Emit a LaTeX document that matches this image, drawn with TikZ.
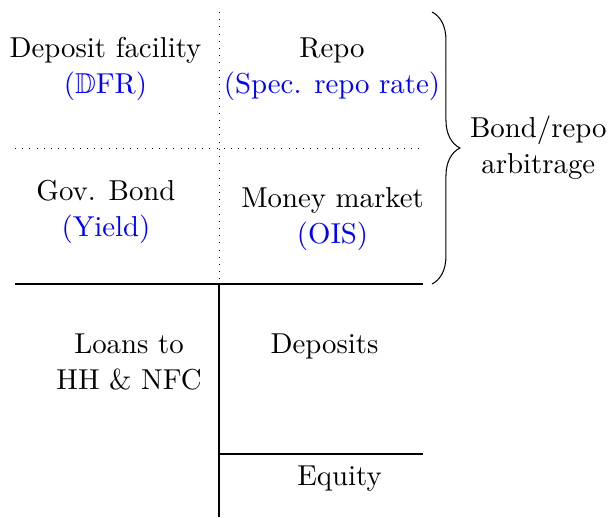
\documentclass[tikz,border=0pt]{standalone}
\usepackage{amssymb}
\usetikzlibrary{decorations.pathreplacing}
\begin{document}
\begin{tikzpicture}[x=0.33333pt,y=-0.33333pt,
  lbl/.style={align=center,anchor=base,inner sep=0pt,font=\fontsize{9.6pt}{12pt}\selectfont},
  sep/.style={line width=0.25pt,dash pattern=on 0.25pt off 2.15pt},
  acct/.style={line width=0.7pt},
  bracestyle/.style={decorate,decoration={brace,amplitude=9.3pt},line width=0.35pt}]
\useasboundingbox (0,0) rectangle (610,517);
% coordinates
\coordinate (vtop) at (219,12);
\coordinate (vmid) at (219,284);
\coordinate (vbot) at (219,517);
\coordinate (hl) at (15,148);
\coordinate (hr) at (423,148);
\coordinate (tl) at (15,284);
\coordinate (tn) at (79,284);
\coordinate (tr) at (423,284);
\coordinate (el) at (219,454);
\coordinate (er) at (423,454);
\coordinate (bt) at (432,12);
\coordinate (bb) at (432,284);
% lines
\draw[sep] (vtop) -- (vmid);
\draw[sep] (hl) -- (hr);
\draw[acct] (tl) -- (tn);
\draw[acct] (tn) -- (tr);
\draw[acct] (vmid) -- (vbot);
\draw[acct] (el) -- (er);
\draw[bracestyle] (bt) -- (bb);
% labels (positioned at the baseline of the last line)
\node[lbl] (df) at (105.5,93.3) {Deposit facility\\{\color{blue}($\mathbb{D}$FR)}};
\node[lbl] (repo) at (332,93.3) {Repo\\{\color{blue}(Spec. repo rate)}};
\node[lbl] (gov) at (106,236) {Gov. Bond\\{\color{blue}(Yield)}};
\node[lbl] (mm) at (332.5,243.3) {Money market\\{\color{blue}(OIS)}};
\node[lbl] (loans) at (129,389.3) {Loans to\\HH \& NFC};
\node[lbl] (dep) at (324.5,353.3) {Deposits};
\node[lbl] (eq) at (339.5,485) {Equity};
\node[lbl] (arb) at (538.3,173.8) {Bond/repo\\arbitrage};
\end{tikzpicture}
\end{document}
